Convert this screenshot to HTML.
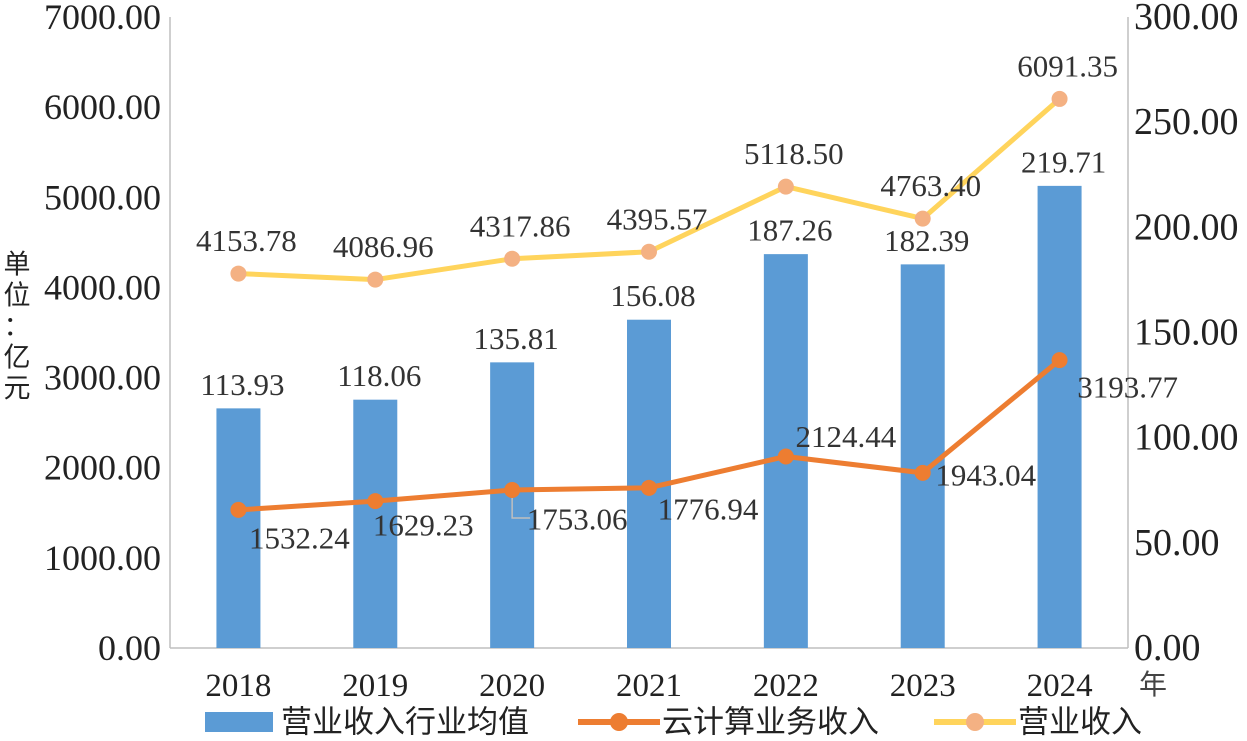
<!DOCTYPE html>
<html><head><meta charset="utf-8"><style>
body{margin:0;background:#fff;}
svg{display:block;font-family:"Liberation Serif","Noto Serif CJK SC",serif;}
</style></head><body>
<svg id="chart" width="1247" height="741"></svg>
<script>
const categories=["2018","2019","2020","2021","2022","2023","2024"];
const avgValues=[113.93,118.06,135.81,156.08,187.26,182.39,219.71];
const cloudValues=[1532.24,1629.23,1753.06,1776.94,2124.44,1943.04,3193.77];
const revenueValues=[4153.78,4086.96,4317.86,4395.57,5118.50,4763.40,6091.35];
const leftTicks=[0,1000,2000,3000,4000,5000,6000,7000];
const rightTicks=[0,50,100,150,200,250,300];
const cloudLabelOff=[[61,28],[48,24],[65,29],[59,21],[60,-20],[63,2],[68,27]];
const NS="http://www.w3.org/2000/svg";
const svg=document.getElementById('chart');
const L=170,R=1128,T=17,B=648;
const bw=(R-L)/categories.length;
const xC=i=>L+bw*(i+0.5);
const yL=v=>B-v/7000*(B-T);
const yR=v=>B-v/300*(B-T);
function mk(tag,a,txt){const e=document.createElementNS(NS,tag);for(const k in a)e.setAttribute(k,a[k]);if(txt!==undefined)e.textContent=txt;svg.appendChild(e);return e;}
let e;
e=mk('line',{x1:L,y1:T,x2:L,y2:B,stroke:'#bfbfbf','stroke-width':1.5});


e=mk('line',{x1:R,y1:T,x2:R,y2:B,stroke:'#bfbfbf','stroke-width':1.5});


e=mk('line',{x1:L,y1:B,x2:R,y2:B,stroke:'#bfbfbf','stroke-width':1.5});


leftTicks.forEach(v=>{e=mk('text',{x:L-9,y:yL(v),'dominant-baseline':'central','text-anchor':'end','font-size':36,fill:'#222'},v.toFixed(2));

});
rightTicks.forEach(v=>{e=mk('text',{x:R+6,y:yR(v),'dominant-baseline':'central','text-anchor':'start','font-size':38,fill:'#222'},v.toFixed(2));

});
categories.forEach((c,i)=>{e=mk('text',{x:xC(i),y:686,'dominant-baseline':'central','text-anchor':'middle','font-size':33,fill:'#222'},c);

});
avgValues.forEach((v,i)=>{e=mk('rect',{x:xC(i)-22,y:yR(v),width:44,height:B-yR(v),fill:'#5b9bd5'});


e=mk('text',{x:xC(i)+4,y:yR(v)-24,'dominant-baseline':'central','text-anchor':'middle','font-size':31,fill:'#333'},v.toFixed(2));

});
e=mk('polyline',{points:revenueValues.map((v,i)=>xC(i)+','+yL(v)).join(' '),fill:'none',stroke:'#ffd45c','stroke-width':5,'stroke-linejoin':'round'});


revenueValues.forEach((v,i)=>{e=mk('circle',{cx:xC(i),cy:yL(v),r:8,fill:'#f4b183'});


e=mk('text',{x:xC(i)+8,y:yL(v)-33,'dominant-baseline':'central','text-anchor':'middle','font-size':31,fill:'#333'},v.toFixed(2));

});
e=mk('polyline',{points:cloudValues.map((v,i)=>xC(i)+','+yL(v)).join(' '),fill:'none',stroke:'#ed7d31','stroke-width':5,'stroke-linejoin':'round'});


e=mk('polyline',{points:`${xC(2)},${yL(cloudValues[2])+8} ${xC(2)},${yL(cloudValues[2])+28} ${xC(2)+18},${yL(cloudValues[2])+28}`,fill:'none',stroke:'#bfbfbf','stroke-width':1.5});


cloudValues.forEach((v,i)=>{e=mk('circle',{cx:xC(i),cy:yL(v),r:8,fill:'#ed7d31'});


e=mk('text',{x:xC(i)+cloudLabelOff[i][0],y:yL(v)+cloudLabelOff[i][1],'dominant-baseline':'central','text-anchor':'middle','font-size':31,fill:'#333'},v.toFixed(2));

});
["单","位","：","亿","元"].forEach((ch,k)=>{e=mk('text',{x:17,y:262+k*31,'dominant-baseline':'central','text-anchor':'middle','font-size':27,fill:'#222','font-family':'"Noto Sans CJK SC",sans-serif'},ch);

});
e=mk('text',{x:1153,y:683,'dominant-baseline':'central','text-anchor':'middle','font-size':28,fill:'#444','font-family':'"Noto Sans CJK SC",sans-serif'},'年');


const lf='"Liberation Sans","Noto Sans CJK SC",sans-serif';
e=mk('rect',{x:205,y:712,width:68,height:20,fill:'#5b9bd5'});


e=mk('text',{x:281,y:722,'dominant-baseline':'central','font-size':31,fill:'#222','font-family':lf},'营业收入行业均值');


e=mk('line',{x1:578,y1:722,x2:660,y2:722,stroke:'#ed7d31','stroke-width':6});


e=mk('circle',{cx:619,cy:722,r:9,fill:'#ed7d31'});


e=mk('text',{x:662,y:722,'dominant-baseline':'central','font-size':31,fill:'#222','font-family':lf},'云计算业务收入');


e=mk('line',{x1:934,y1:722,x2:1016,y2:722,stroke:'#ffd45c','stroke-width':6});


e=mk('circle',{cx:975,cy:722,r:9,fill:'#f4b183'});


e=mk('text',{x:1018,y:722,'dominant-baseline':'central','font-size':31,fill:'#222','font-family':lf},'营业收入');


</script>
</body></html>
